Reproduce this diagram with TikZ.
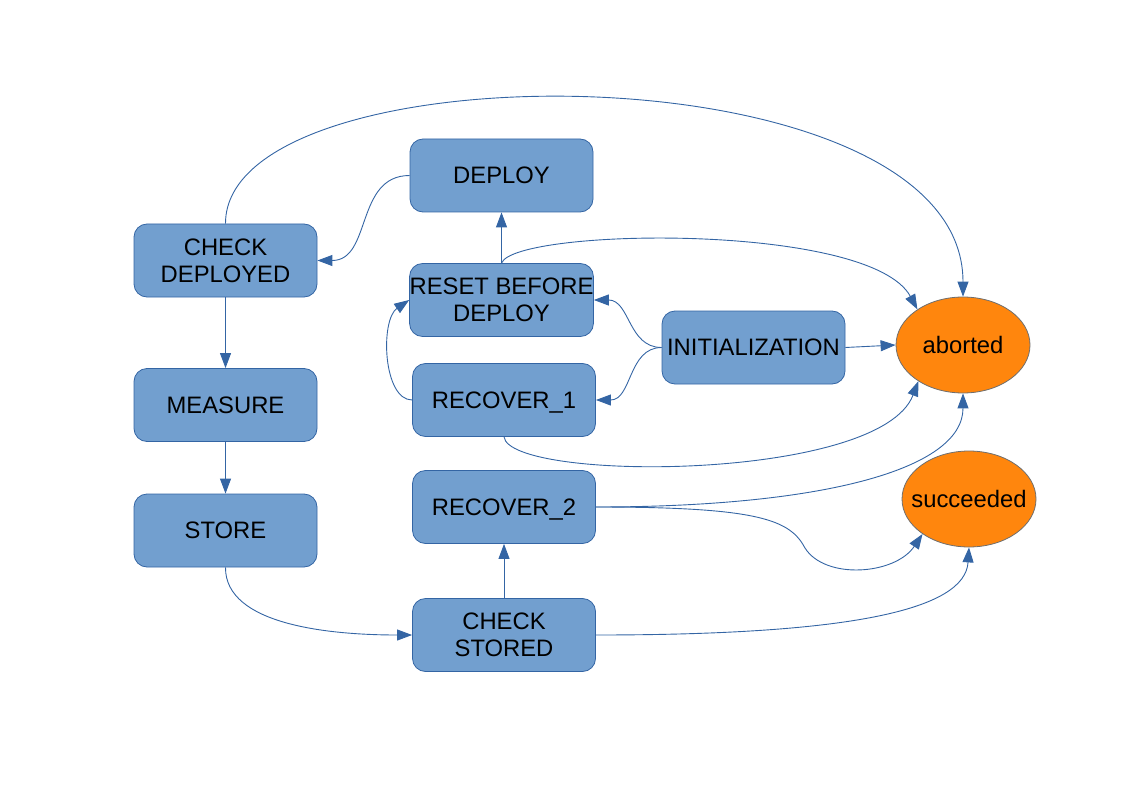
\documentclass[tikz,border=0pt]{standalone}
\usepackage{fontspec}
\setmainfont{Liberation Sans}
\usetikzlibrary{arrows.meta,shapes.geometric}
\definecolor{boxfill}{HTML}{729FCF}
\definecolor{boxline}{HTML}{3465A4}
\definecolor{endfill}{HTML}{FF860D}
\definecolor{endline}{HTML}{6E6E6E}
\tikzset{
  labelfont/.style={font=\fontsize{23.8pt}{26.7pt}\selectfont},
  state/.style={draw=boxline, fill=boxfill, line width=0.8pt, rounded corners=13pt,
    minimum width=183pt, minimum height=73pt, inner sep=0pt, align=center, labelfont},
  outcome/.style={ellipse, draw=endline, fill=endfill, line width=0.8pt,
    minimum width=134pt, minimum height=96pt, inner sep=0pt},
  outtext/.style={labelfont, inner sep=0pt},
  conn/.style={draw=boxline, line width=0.9pt, -{Triangle[length=15pt,width=11pt]}, fill=none},
}
\begin{document}
\begin{tikzpicture}[x=1pt,y=-1pt]
\useasboundingbox (0,0) rectangle (1123,794);
\node[state] (deploy) at (501.5,175.5) {DEPLOY};
\node[state] (chkdep) at (225.5,260.5) {CHECK\\DEPLOYED};
\node[state] (reset) at (501.5,300) {RESET BEFORE\\DEPLOY};
\node[state] (init) at (753.5,347.5) {INITIALIZATION};
\node[state] (rec1) at (504,400) {RECOVER\smash{\_}1};
\node[state] (measure) at (225.5,405) {MEASURE};
\node[state] (store) at (225.5,530.5) {STORE};
\node[state] (rec2) at (504,507) {RECOVER\smash{\_}2};
\node[state] (chkst) at (504,635) {CHECK\\STORED};
\node[outcome, label={[outtext, name=abortedtxt]center:aborted}] (aborted) at (963,345) {};
\node[outcome, label={[outtext, name=succtxt]center:succeeded}] (succ) at (969,499) {};

% CHECK DEPLOYED -> aborted (big arc)
\draw[conn] (chkdep.north) .. controls (225,45) and (963,45) .. (aborted.north);
% DEPLOY -> CHECK DEPLOYED
\draw[conn] (deploy.west) .. controls (355,175.5) and (372,260.5) .. (chkdep.east);
% RESET -> DEPLOY
\draw[conn] (reset.north) -- (deploy.south);
% RESET -> aborted
\draw[conn] (reset.north) .. controls (515,228) and (870,222) .. (aborted.142);
% INITIALIZATION -> RESET
\draw[conn] (init.west) .. controls (628,347.5) and (630,300) .. (reset.east);
% INITIALIZATION -> RECOVER_1
\draw[conn] (init.west) .. controls (628,347.5) and (632,400) .. (rec1.east);
% INITIALIZATION -> aborted
\draw[conn] (init.east) -- (aborted.west);
% RECOVER_1 -> RESET
\draw[conn] (rec1.west) .. controls (383,400) and (380,320) .. (reset.west);
% RECOVER_1 -> aborted
\draw[conn] (rec1.south) .. controls (510,482) and (880,482) .. (aborted.219);
% RECOVER_2 -> aborted
\draw[conn] (rec2.east) .. controls (820,507) and (963,470) .. (aborted.south);
% RECOVER_2 -> succeeded
\draw[conn] (rec2.east) .. controls (760,507) and (790,520) .. (805,548)
   .. controls (825,580) and (895,575) .. (succ.217);
% CHECK DEPLOYED -> MEASURE -> STORE
\draw[conn] (chkdep.south) -- (measure.north);
\draw[conn] (measure.south) -- (store.north);
% STORE -> CHECK STORED
\draw[conn] (store.south) .. controls (225,625) and (330,635) .. (chkst.west);
% CHECK STORED -> RECOVER_2
\draw[conn] (chkst.north) -- (rec2.south);
% CHECK STORED -> succeeded
\draw[conn] (chkst.east) .. controls (850,635) and (965,610) .. (succ.south);
\end{tikzpicture}
\end{document}
